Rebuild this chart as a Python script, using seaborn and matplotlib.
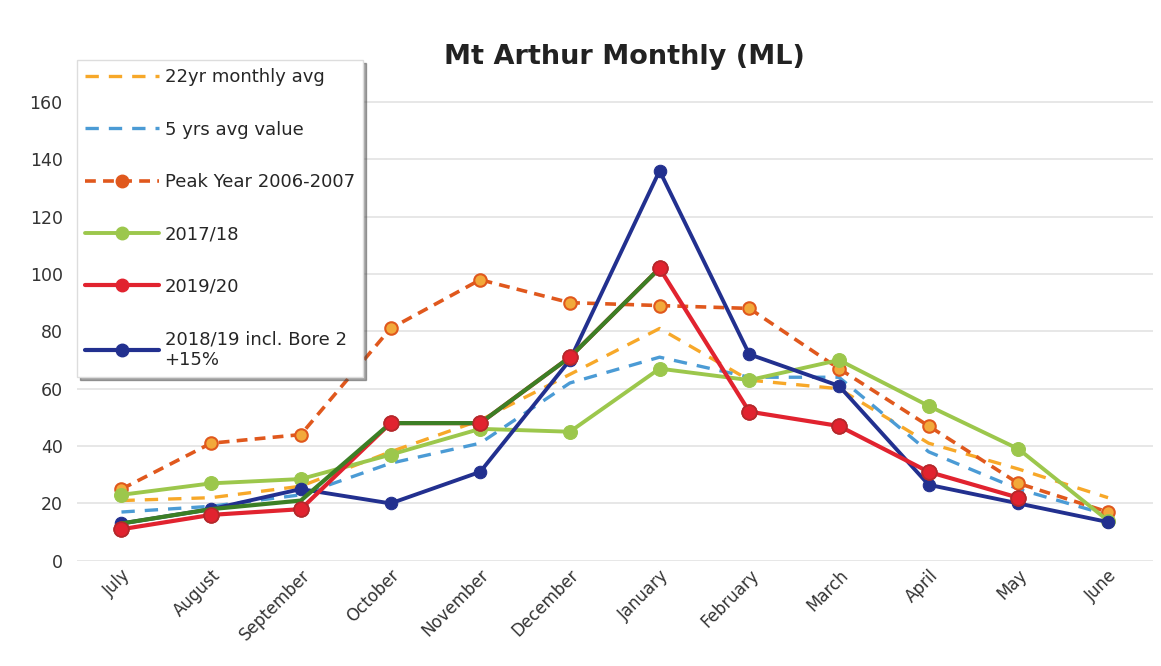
import numpy as np
import pandas as pd
import matplotlib
matplotlib.use("Agg")
import matplotlib.pyplot as plt
from matplotlib.lines import Line2D
import seaborn as sns

months = ["July", "August", "September", "October", "November", "December",
          "January", "February", "March", "April", "May", "June"]
avg22 = [21, 22, 26, 38, 49, 65, 81, 63, 60, 41, 32, 22]
avg5 = [17, 19, 23, 34, 41, 62, 71, 64, 64, 38, 25, 16]
peak = [25, 41, 44, 81, 98, 90, 89, 88, 67, 47, 27, 17]
y1718 = [23, 27, 28.5, 37, 46, 45, 67, 63, 70, 54, 39, 14]
y1920 = [11, 16, 18, 48, 48, 71, 102, 52, 47, 31, 22, np.nan]
y1819 = [13, 18, 25, 20, 31, 70, 136, 72, 61, 26.5, 20, 13.5]
ytd = [13, 18, 21, 48, 48, 71, 102, np.nan, np.nan, np.nan, np.nan, np.nan]

labels = ["22yr monthly avg", "5 yrs avg value", "Peak Year 2006-2007",
          "2017/18", "2019/20", "2018/19 incl. Bore 2\n+15%"]

c_avg22 = "#F7A829"
c_avg5 = "#4B9BD5"
c_peak = "#E0581D"
c_1718 = "#9CC74C"
c_1920 = "#E1232F"
c_1819 = "#22308F"
c_ytd = "#3C7F25"

sns.set_style("white")
plt.rcParams["font.family"] = ["DejaVu Sans"]

x = np.arange(len(months))
fig = plt.figure(figsize=(11.61, 6.66), dpi=100)
ax = fig.add_axes([0.066, 0.158, 0.927, 0.732])

def df(vals):
    return pd.DataFrame({"x": x, "y": vals}).dropna()

sns.lineplot(data=df(avg22), x="x", y="y", ax=ax, color=c_avg22, lw=2.4,
             linestyle=(0, (4, 3)), zorder=2)
sns.lineplot(data=df(avg5), x="x", y="y", ax=ax, color=c_avg5, lw=2.4,
             linestyle=(0, (4, 3)), zorder=2)
sns.lineplot(data=df(peak), x="x", y="y", ax=ax, color=c_peak, lw=2.6,
             linestyle=(0, (3, 2)), marker="o", markersize=9,
             markerfacecolor="#F2A93B", markeredgecolor=c_peak, markeredgewidth=1.5, zorder=3)
sns.lineplot(data=df(y1718), x="x", y="y", ax=ax, color=c_1718, lw=2.8,
             marker="o", markersize=10, markeredgecolor=c_1718, zorder=4)
sns.lineplot(data=df(y1819), x="x", y="y", ax=ax, color=c_1819, lw=2.8,
             marker="o", markersize=9, markeredgecolor=c_1819, zorder=5)
sns.lineplot(data=df(y1920), x="x", y="y", ax=ax, color=c_1920, lw=3.0,
             marker="o", markersize=11, markeredgecolor="#B5282B", zorder=6)
sns.lineplot(data=df(ytd), x="x", y="y", ax=ax, color=c_ytd, lw=3.0, zorder=7)
sns.scatterplot(data=df(y1920), x="x", y="y", ax=ax, color=c_1920, s=110,
                edgecolor="#B5282B", linewidth=1.2, zorder=8)

ax.set_xlim(-0.5, 11.5)
ax.set_ylim(0, 170)
ax.set_yticks(np.arange(0, 161, 20))
ax.set_xticks(x)
ax.set_xticklabels(months, rotation=45, ha="right", rotation_mode="anchor",
                   fontsize=12, color="#333333")
ax.tick_params(axis="y", labelsize=12.5, length=0, pad=10, labelcolor="#333333")
ax.tick_params(axis="x", length=0, pad=4)
ax.grid(axis="y", color="#E3E3E3", lw=1.2)
ax.set_axisbelow(True)
for s in ax.spines.values():
    s.set_visible(False)
ax.set_xlabel("")
ax.set_ylabel("")

fig.text(0.538, 0.915, "Mt Arthur Monthly (ML)", ha="center", va="center",
         fontsize=19.5, fontweight="bold", color="#222222")

handles = [
    Line2D([], [], color=c_avg22, lw=2.4, linestyle=(0, (4, 3))),
    Line2D([], [], color=c_avg5, lw=2.4, linestyle=(0, (4, 3))),
    Line2D([], [], color=c_peak, lw=2.6, linestyle=(0, (3, 2)), marker="o", markersize=9,
           markerfacecolor=c_peak, markeredgecolor=c_peak),
    Line2D([], [], color=c_1718, lw=2.8, marker="o", markersize=9),
    Line2D([], [], color=c_1920, lw=3.0, marker="o", markersize=9),
    Line2D([], [], color=c_1819, lw=3.0, marker="o", markersize=9),
]
leg = ax.legend(handles, labels, loc="upper left", bbox_to_anchor=(-0.008, 1.045),
                fontsize=13, frameon=True, fancybox=False, shadow=True,
                handlelength=4.1, labelspacing=1.9, borderpad=0.45, handletextpad=0.3)
leg.get_frame().set_edgecolor("#DDDDDD")
leg.get_frame().set_facecolor("white")
leg.set_zorder(20)

fig.savefig("out.png", dpi=100)
